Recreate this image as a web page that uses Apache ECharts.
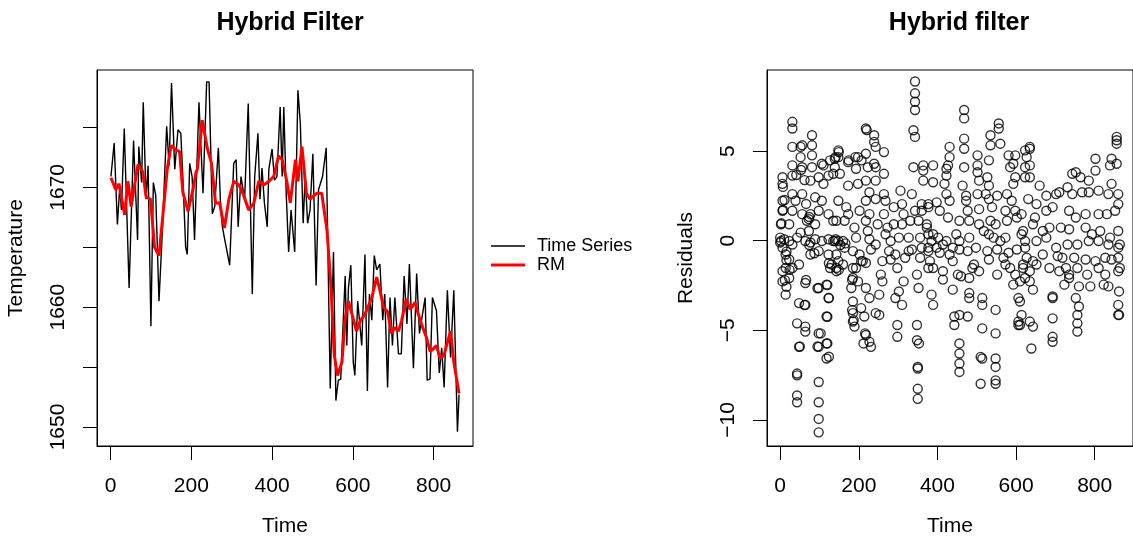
<!DOCTYPE html>
<html>
<head>
<meta charset="utf-8">
<script src="https://cdn.jsdelivr.net/npm/echarts@6/dist/echarts.min.js"></script>
<style>
html,body{margin:0;padding:0;background:#fff;}
#c{width:1133px;height:543px;}
</style>
</head>
<body>
<div id="c"></div>
<script>
// ---- values ----
const xTicks = [0, 200, 400, 600, 800];
const tempTicks = [1650, 1655, 1660, 1665, 1670, 1675];
const tempLabels = [1650, 1660, 1670];
const residTicks = [-10, -5, 0, 5];

// observed temperature series [time, temperature]
const timeSeries = [
[1,1670.9],[9,1673.7],[17,1666.9],[23,1670.1],[27,1668.1],[34,1674.9],[46,1661.6],[57,1673.9],[67,1665.6],[70,1673.4],
[77,1670.4],[81,1677.1],[88,1669.0],[93,1671.8],[100,1658.4],[106,1670.4],[112,1669.3],[120,1660.5],[128,1666.1],[139,1675.1],
[145,1671.8],[151,1678.7],[159,1671.5],[167,1674.8],[174,1674.5],[180,1670.1],[186,1665.0],[190,1664.4],[196,1672.0],[202,1670.9],
[208,1665.6],[219,1677.1],[229,1669.5],[238,1678.8],[244,1678.8],[252,1667.8],[258,1668.4],[267,1673.3],[273,1668.1],[277,1666.7],
[283,1665.6],[295,1663.5],[305,1672.0],[311,1672.3],[316,1666.7],[323,1670.9],[332,1669.0],[341,1677.0],[351,1661.1],[357,1670.9],
[365,1674.5],[370,1669.0],[375,1671.6],[381,1668.7],[388,1666.7],[392,1671.5],[400,1673.2],[406,1670.6],[412,1670.9],[420,1676.7],
[425,1670.9],[429,1676.7],[435,1669.5],[441,1664.6],[447,1668.1],[456,1664.6],[464,1678.1],[470,1675.3],[477,1667.0],[482,1670.9],
[488,1667.0],[494,1668.1],[501,1672.8],[509,1661.8],[515,1669.8],[525,1670.9],[534,1673.3],[544,1653.2],[552,1664.6],[558,1652.2],
[564,1653.9],[570,1654.0],[581,1662.6],[585,1656.8],[589,1661.6],[595,1663.5],[601,1655.4],[605,1654.3],[612,1660.5],[622,1656.8],
[630,1664.4],[636,1653.0],[641,1661.1],[647,1658.9],[653,1664.3],[659,1663.1],[667,1663.6],[674,1658.9],[679,1661.1],[686,1653.3],
[692,1660.8],[698,1656.8],[704,1660.8],[713,1656.1],[720,1656.1],[727,1662.6],[734,1658.6],[740,1663.6],[750,1654.9],[758,1662.8],
[765,1657.8],[770,1658.9],[779,1660.8],[784,1653.9],[791,1654.0],[797,1660.8],[807,1659.7],[814,1654.5],[820,1656.6],[826,1653.3],
[834,1661.4],[842,1655.8],[850,1661.4],[859,1649.6],[863,1652.7]
];

// hybrid filter output (RM) [time, temperature]
const rmSeries = [
[1,1670.8],[13,1669.8],[21,1670.3],[35,1667.7],[43,1670.5],[51,1668.4],[68,1671.9],[80,1671.3],[88,1669.2],[99,1669.0],
[109,1665.0],[120,1664.3],[130,1667.8],[140,1671.4],[150,1673.5],[162,1673.1],[171,1673.0],[179,1669.6],[192,1668.0],[204,1669.8],
[212,1671.3],[215,1671.5],[227,1675.6],[240,1673.2],[250,1672.0],[260,1668.7],[270,1668.7],[282,1666.6],[293,1669.0],[305,1670.5],
[318,1670.2],[330,1669.3],[342,1668.1],[355,1668.7],[367,1670.5],[380,1670.2],[392,1670.5],[404,1670.9],[416,1672.6],[425,1672.3],
[437,1670.4],[445,1668.7],[458,1672.3],[464,1670.5],[474,1673.4],[485,1669.5],[494,1669.0],[503,1669.3],[511,1669.5],[523,1669.5],
[536,1666.4],[546,1661.6],[554,1656.0],[562,1654.3],[573,1655.4],[581,1659.1],[589,1660.5],[598,1659.4],[609,1658.0],[619,1658.9],
[630,1659.4],[647,1660.8],[659,1662.5],[667,1661.4],[676,1660.0],[686,1659.6],[696,1657.8],[704,1658.3],[713,1658.0],[721,1658.9],
[732,1660.7],[742,1659.8],[754,1660.4],[762,1659.4],[773,1658.3],[783,1657.4],[791,1656.3],[799,1656.5],[807,1656.8],[816,1655.7],
[826,1656.0],[832,1656.8],[842,1658.0],[850,1655.4],[857,1654.0],[863,1652.8]
];

// residuals [time, residual], in four time blocks
const residA = [
[31,6.63],[31,6.26],[81,5.88],[31,5.23],[52,5.23],[56,5.32],[81,5.32],[52,4.66],[81,4.76],[31,4.2],[56,4.1],[81,4.1],[106,4.29],[110,4.2],[127,4.48],[139,4.57],
[6,3.54],[6,3.17],[31,3.63],[77,3.35],[98,3.54],[110,3.17],[123,3.63],[135,3.73],
[6,2.23],[31,2.6],[56,2.6],[89,2.42],[106,2.23],[39,2.23],
[6,1.67],[31,1.67],[56,1.48],[77,1.48],[98,1.67],[123,1.48],[135,1.11],[68,1.11],[73,1.2],
[2,0.92],[23,0.92],[52,0.45],[73,0.54],[89,0.92],
[0,0.17],[2,-0.02],[10,0.08],[23,-0.02],[43,0.17],[64,-0.02],[77,-0.1],[89,0.08],[106,-0.02],[123,0.08],[135,-0.02],[148,-0.02],[0,-0.1],[31,-0.21],
[6,-0.39],[14,-0.77],[23,-1.05],[14,-1.52],[6,-1.7],[31,-1.52],[48,-1.33],[77,-0.77],[98,-0.58],[123,-0.77],[131,-1.33],[127,-1.52],[143,-1.7],[148,-1.14],
[23,-2.08],[6,-2.27],[14,-3.01],[64,-2.36],[98,-2.64],[118,-2.45],[48,-3.48],[64,-3.58],[123,-3.2],
[43,-4.61],[64,-4.79],[64,-5.07],[98,-5.17],[118,-5.73],[118,-4.23],[48,-5.92],[98,-5.92],[118,-6.57],
[43,-7.41],[43,-7.51],[98,-7.88],[43,-8.63],[43,-9.01],[98,-9.01],[98,-9.94],[98,-10.69],
[7,3.0],[11,2.27],[7,1.71],[3,0.97],[16,-0.61],[16,-1.08],[24,-1.63],[12,-2.2],[16,-2.57],[41,3.66],[53,3.94],[62,3.38],
[66,2.05],[74,1.32],[74,-0.24],[87,-0.7],[66,-2.19],[95,-2.65],[120,-2.47],[124,-3.2],[120,-4.24],[103,-5.17],[120,-5.73],
[124,-6.47],[95,-5.9],[50,-5.9],[62,-3.59],[141,0.08],[153,-0.24],[166,-0.15],[124,-1.26],[149,-1.63],[141,4.66],[149,4.94],
[174,4.48],[191,4.66],[207,4.48],[220,6.17],[183,-2.19],[183,-3.87],[187,-4.43],[212,-5.73],[216,-5.17]
];
const residB = [
[343,8.88],[343,8.22],[343,7.75],[343,7.29],[339,6.16],[343,5.79],[339,4.1],[364,4.2],[364,3.91],[364,3.35],
[218,6.26],[239,5.88],[239,5.51],[243,5.23],[264,4.94],
[148,5.04],[148,4.66],[173,4.38],[198,4.66],[218,4.85],[239,4.29],[243,4.1],[139,4.1],[152,3.73],[193,4.01],[223,4.1],[264,3.73],[243,3.35],
[173,3.07],[198,3.17],[218,3.35],[227,2.7],[243,2.32],[264,2.6],[268,2.23],[306,2.79],[335,2.6],[360,2.04],
[148,2.23],[168,1.87],[173,1.48],[202,1.67],[218,2.23],[227,1.48],[264,1.48],[289,1.87],[310,2.04],[314,1.48],[343,1.67],[360,1.67],[377,1.87],
[143,1.11],[164,1.11],[189,0.73],[218,1.11],[223,0.54],[248,0.92],[273,0.73],[289,0.92],[310,0.92],[331,1.11],[352,1.11],[373,0.92],
[139,-0.02],[160,-0.02],[193,0.17],[227,0.08],[243,-0.21],[268,0.36],[281,-0.02],[302,0.17],[327,0.17],[356,0.17],[377,0.36],
[143,-0.77],[164,-0.39],[185,-0.58],[202,-0.77],[231,-0.49],[277,-0.58],[293,-0.77],[327,-0.58],[335,-0.49],[360,-0.39],[377,-0.58],
[143,-1.52],[160,-1.33],[185,-1.52],[210,-1.14],[260,-1.14],[281,-1.05],[298,-1.52],[318,-0.95],[356,-0.95],[377,-1.52],
[193,-1.52],[206,-1.14],[218,-1.24],[185,-2.08],[181,-2.64],[198,-2.27],[218,-2.64],[256,-1.89],[260,-2.27],[302,-2.83],[314,-2.27],[348,-1.89],
[185,-3.39],[206,-3.76],[227,-3.2],[252,-3.01],[293,-3.2],[310,-3.58],[352,-2.64],
[185,-4.04],[185,-4.51],[189,-4.79],[214,-4.23],[218,-5.26],[227,-5.64],[231,-5.92],[243,-4.04],[252,-4.14],[298,-4.7],[298,-5.36],[348,-4.7],[348,-5.55],[353,-5.73],
[350,-7.04],[350,-7.13],[350,-8.26],[350,-8.82]
];
const residC = [
[468,7.29],[468,6.82],[556,6.54],[556,6.26],[535,5.88],[535,5.32],[560,5.41],
[468,5.69],[468,5.13],[431,5.23],[431,4.66],[427,4.2],[423,3.63],[418,3.17],[423,4.01],[502,4.76],[502,4.2],[502,3.82],[506,3.35],[531,4.48],[527,3.54],[531,3.07],[581,4.76],[598,4.76],[593,4.29],[585,4.1],[598,3.54],[593,3.17],[623,5.04],[623,4.1],[623,3.54],
[389,4.2],[389,3.26],[468,4.1],[464,3.07],[473,2.51],[473,2.23],[477,1.67],[502,2.6],[506,1.76],[523,2.6],[531,2.32],[539,1.87],[552,2.51],[577,2.6],[589,2.23],[598,1.67],[573,1.67],
[377,2.04],[398,2.14],[423,2.6],[431,2.23],[406,1.67],[427,1.29],[456,1.11],[481,1.11],[506,0.92],[535,1.11],[548,0.92],[577,1.11],[602,1.29],
[373,0.73],[389,0.36],[402,0.17],[414,-0.21],[448,0.36],[456,-0.02],[481,0.17],[518,0.54],[531,0.36],[543,0.17],[560,-0.02],[573,0.17],[614,0.36],[385,-0.02],[398,-0.39],[423,-0.02],[439,-0.39],
[377,-0.39],[406,-0.67],[431,-0.77],[456,-0.49],[477,-0.58],[498,-0.39],[527,-0.58],[552,-0.49],[581,-0.67],[602,-0.49],[623,-0.39],
[381,-1.14],[389,-1.52],[414,-1.7],[439,-1.14],[452,-1.89],[460,-1.98],[481,-2.08],[489,-1.52],[493,-1.33],[506,-1.7],[531,-1.05],[552,-1.89],[568,-0.95],[573,-1.33],[585,-1.52],[598,-1.89],[618,-1.33],[623,-2.08],
[414,-2.17],[439,-2.73],[481,-2.92],[481,-3.2],[514,-3.2],[514,-3.58],[548,-3.86],[385,-3.01],[389,-3.58],[593,-2.45],[606,-3.2],[610,-3.39],
[443,-4.23],[443,-4.7],[456,-4.14],[477,-4.23],[514,-4.89],[548,-5.17],[606,-4.51],[606,-4.7],
[456,-5.73],[456,-6.29],[456,-6.85],[456,-7.32],[510,-6.48],[514,-6.57],[548,-6.57],[548,-7.04],[548,-7.79],[548,-7.98],[510,-7.98]
];
const residD = [
[635,5.23],[635,5.13],[635,4.2],[635,3.54],[627,4.66],
[856,5.79],[856,5.6],[856,5.41],[843,4.57],[856,4.29],[839,4.2],[802,4.57],[802,3.91],[843,3.17],[860,2.6],[752,3.82],[743,3.73],[764,3.54],[785,3.35],
[660,3.07],[631,2.32],[652,2.04],[677,2.51],[702,2.6],[710,2.7],[731,2.98],[743,2.6],[768,2.7],[785,2.7],[810,2.79],[835,2.6],[860,2.04],[852,1.67],
[614,1.48],[648,1.29],[677,1.67],[693,1.87],[735,1.67],[752,1.29],[777,1.48],[810,1.48],[831,1.48],[860,0.54],
[618,0.54],[643,0.92],[668,0.54],[685,0.73],[714,0.73],[735,0.64],[777,0.73],[793,0.36],[814,0.54],[839,0.17],[860,-0.39],
[623,-0.02],[652,-0.02],[677,0.17],[702,-0.39],[731,-0.21],[756,-0.21],[785,-0.02],[810,-0.02],[835,-0.21],[864,-0.21],
[627,-0.95],[643,-1.14],[668,-0.77],[706,-0.86],[718,-0.95],[748,-0.95],[777,-1.05],[802,-1.14],[827,-0.95],[843,-1.05],[860,-0.95],
[618,-1.52],[635,-1.7],[652,-1.33],[685,-1.52],[710,-1.7],[727,-1.52],[735,-1.89],[756,-1.52],[781,-1.89],[810,-1.52],[827,-1.89],[860,-1.7],[864,-1.52],
[610,-2.27],[635,-2.27],[643,-2.73],[723,-2.45],[735,-2.08],[760,-2.55],[789,-2.55],[823,-2.45],[835,-2.55],[862,-2.83],
[693,-3.2],[693,-3.11],[752,-3.2],[760,-3.67],[756,-4.14],[860,-3.58],[860,-4.14],[862,-4.14],
[614,-4.14],[635,-4.51],[643,-4.79],[693,-4.33],[693,-5.36],[693,-5.64],[756,-4.61],[756,-5.07],[610,-4.7],
[639,-6.01]
];

// ---- chart ----
const FONT = '"Liberation Sans", Arial, Helvetica, sans-serif';
const chart = echarts.init(document.getElementById('c'), null, {renderer: 'canvas'});

function xAxisDef(gi) {
  return {
    gridIndex: gi, type: 'value', min: -33.5, max: 897.5,
    name: 'Time', nameLocation: 'middle', nameGap: 70,
    nameTextStyle: {fontSize: 21, color: '#000', fontFamily: FONT},
    splitLine: {show: false},
    axisLine: {show: true, onZero: false, lineStyle: {color: '#000', width: 1}},
    axisTick: {show: true, inside: false, length: 14, customValues: xTicks, lineStyle: {color: '#000', width: 1}},
    axisLabel: {customValues: xTicks, fontSize: 21, color: '#000', margin: 30, fontFamily: FONT,
                formatter: v => String(v)}
  };
}

// legend icons: thin (black) and thick (red) horizontal strokes centred in a 34x14 box
const thinIcon = 'path://M0,0L0,14L0.01,14L0.01,0Z M0,6.2L34,6.2L34,7.8L0,7.8Z';
const thickIcon = 'path://M0,0L0,14L0.01,14L0.01,0Z M0,5.5L34,5.5L34,8.5L0,8.5Z';

const option = {
  animation: false,
  backgroundColor: '#fff',
  textStyle: {fontFamily: FONT},
  title: [
    {text: 'Hybrid Filter', left: 285, top: 6, textAlign: 'center',
     textStyle: {fontSize: 25, fontWeight: 'bold', color: '#000', fontFamily: FONT}},
    {text: 'Hybrid filter', left: 954, top: 6, textAlign: 'center',
     textStyle: {fontSize: 25, fontWeight: 'bold', color: '#000', fontFamily: FONT}}
  ],
  legend: {
    data: [
      {name: 'Time Series', icon: thinIcon, itemStyle: {color: '#000', borderWidth: 0}},
      {name: 'RM', icon: thickIcon, itemStyle: {color: '#ff0000', borderWidth: 0}}
    ],
    orient: 'vertical', left: 486, top: 232,
    itemWidth: 34, itemHeight: 14, itemGap: 1,
    textStyle: {fontSize: 18, color: '#000', fontFamily: FONT, padding: [0, 0, 0, 7]}
  },
  grid: [
    {left: 97, top: 70, width: 376, height: 376, show: true, borderColor: '#000', borderWidth: 1, backgroundColor: 'transparent'},
    {left: 767, top: 70, width: 373, height: 376, show: true, borderColor: '#000', borderWidth: 1, backgroundColor: 'transparent'}
  ],
  xAxis: [xAxisDef(0), xAxisDef(1)],
  yAxis: [
    {gridIndex: 0, type: 'value', min: 1648.41, max: 1679.79,
     name: 'Temperature', nameLocation: 'middle', nameGap: 70, nameRotate: 90,
     nameTextStyle: {fontSize: 21, color: '#000', fontFamily: FONT},
     splitLine: {show: false},
     axisLine: {show: true, onZero: false, lineStyle: {color: '#000', width: 1}},
     axisTick: {show: true, inside: false, length: 14, customValues: tempTicks, lineStyle: {color: '#000', width: 1}},
     axisLabel: {customValues: tempLabels, rotate: 90, fontSize: 21, color: '#000', margin: 28, fontFamily: FONT,
                 formatter: v => String(v)}},
    {gridIndex: 1, type: 'value', min: -11.45, max: 9.52,
     name: 'Residuals', nameLocation: 'middle', nameGap: 70, nameRotate: 90,
     nameTextStyle: {fontSize: 21, color: '#000', fontFamily: FONT},
     splitLine: {show: false},
     axisLine: {show: true, onZero: false, lineStyle: {color: '#000', width: 1}},
     axisTick: {show: true, inside: false, length: 14, customValues: residTicks, lineStyle: {color: '#000', width: 1}},
     axisLabel: {customValues: residTicks, rotate: 90, fontSize: 21, color: '#000', margin: 28, fontFamily: FONT,
                 formatter: v => String(v).replace('-', '\u2212')}}
  ],
  series: [
    {name: 'Time Series', type: 'line', xAxisIndex: 0, yAxisIndex: 0, data: timeSeries,
     symbol: 'none', showSymbol: false, lineStyle: {color: '#000', width: 1.4}, itemStyle: {color: '#000'}, z: 2},
    {name: 'RM', type: 'line', xAxisIndex: 0, yAxisIndex: 0, data: rmSeries,
     symbol: 'none', showSymbol: false, lineStyle: {color: '#ff0000', width: 3}, itemStyle: {color: '#ff0000'}, z: 3},
    {name: 'Residuals', type: 'scatter', xAxisIndex: 1, yAxisIndex: 1,
     data: [].concat(residA, residB, residC, residD),
     symbol: 'circle', symbolSize: 9,
     itemStyle: {color: 'rgba(0,0,0,0)', borderColor: '#000', borderWidth: 1.4}}
  ]
};
chart.setOption(option);
</script>
</body>
</html>
